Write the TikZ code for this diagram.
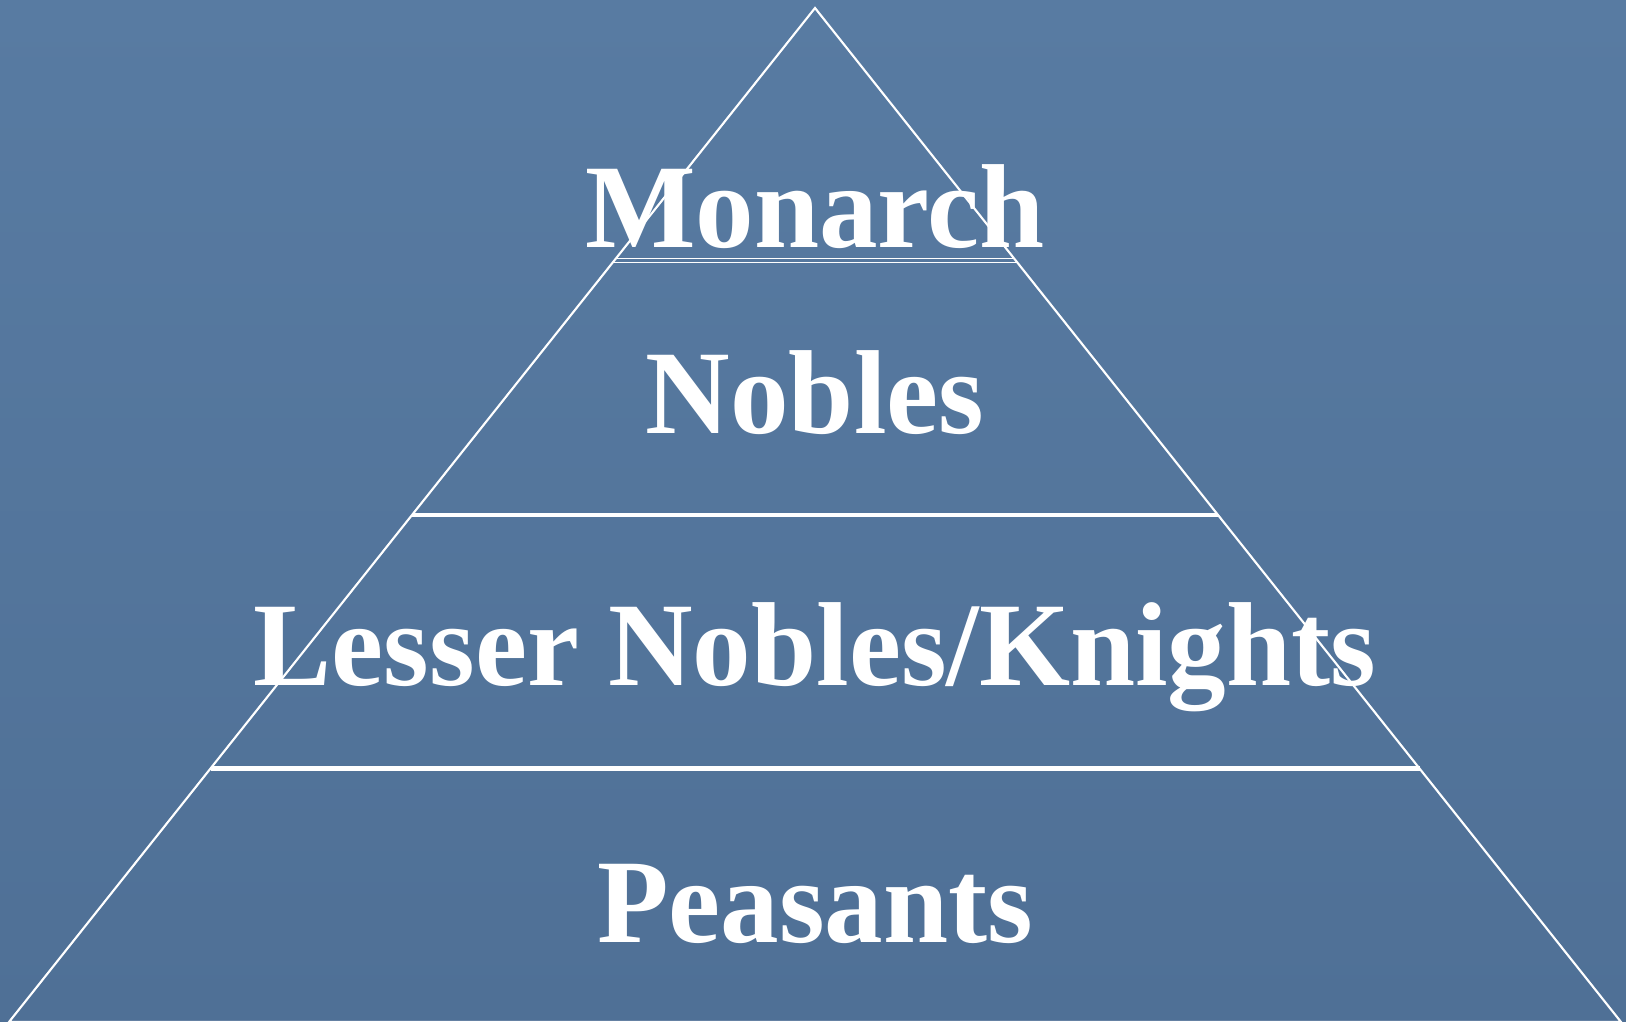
\documentclass[tikz,border=0pt]{standalone}
\usepackage{fontspec}
\setmainfont{Liberation Serif}[BoldFont={Liberation Serif Bold}, BoldFeatures={FakeStretch=0.98}]
\usetikzlibrary{calc}
\definecolor{fondH}{RGB}{88,123,162}
\definecolor{fondB}{RGB}{79,112,150}
\tikzset{
  fond/.style={top color=fondH, bottom color=fondB, draw=none},
  cote/.style={draw=white, line width=0.6pt, line join=miter},
  palier/.style={draw=white, line width=1.3pt},
  palierfin/.style={draw=white, line width=0.35pt},
  rang/.style={text=white, inner sep=0pt, anchor=base,
               font=\fontsize{34}{40}\selectfont\bfseries},
}
\begin{document}
\begin{tikzpicture}
    % Fond
    \fill[fond] (0,0) rectangle (16.26,10.21);
    \useasboundingbox (0,0) rectangle (16.26,10.21);
    % Sommets de la pyramide
    \coordinate (apex) at (8.15,10.13);
    \coordinate (bg) at (0.09,-0.01);
    \coordinate (bd) at (16.21,-0.01);
    % Rangs
    \node[rang] (monarque) at (8.15,7.74) {Monarch};
    \node[rang] (nobles) at (8.15,5.875) {Nobles};
    \node[rang] (chevaliers) at (8.15,3.36) {Lesser Nobles/Knights};
    \node[rang] (paysans) at (8.15,0.79) {Peasants};
    % Paliers
    \coordinate (g1a) at ($(apex)!0.2473!(bg)$); \coordinate (d1a) at ($(apex)!0.2473!(bd)$);
    \coordinate (g1b) at ($(apex)!0.2512!(bg)$); \coordinate (d1b) at ($(apex)!0.2512!(bd)$);
    \coordinate (g2) at ($(apex)!0.5!(bg)$); \coordinate (d2) at ($(apex)!0.5!(bd)$);
    \coordinate (g3) at ($(apex)!0.75!(bg)$); \coordinate (d3) at ($(apex)!0.75!(bd)$);
    \draw[palierfin] (g1a) -- (d1a);
    \draw[palierfin] (g1b) -- (d1b);
    \draw[palier] (g2) -- (d2);
    \draw[palier] (g3) -- (d3);
    % Contour
    \draw[cote] (apex) -- (bg) -- (bd) -- cycle;
\end{tikzpicture}
\end{document}
